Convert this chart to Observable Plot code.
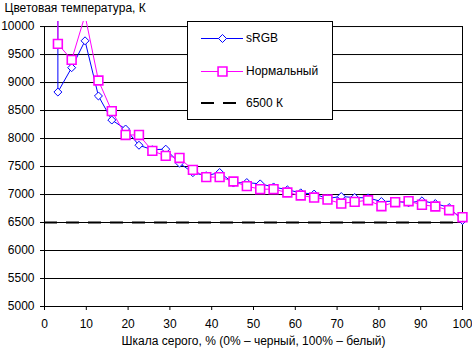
<!DOCTYPE html>
<html>
<head>
<meta charset="utf-8">
<script src="https://cdn.jsdelivr.net/npm/d3@7"></script>
<script src="https://cdn.jsdelivr.net/npm/@observablehq/plot@0.6"></script>
<style>
  html, body { margin: 0; padding: 0; background: white; }
  #chart { position: relative; width: 472px; height: 349px; font-family: "Liberation Sans", Arial, sans-serif; font-size: 12px; }
  #legend { position: absolute; left: 187px; top: 21px; width: 146px; height: 99px; box-sizing: border-box; border: 1px solid black; background: white; }
  #legend svg { position: absolute; left: 0; top: 0; }
  #legend span { position: absolute; left: 58px; line-height: 14px; white-space: nowrap; color: black; }
</style>
</head>
<body>
<div id="chart"></div>
<script>
// Grey level of each measured step, % of full scale
const greyLevels = [3.2, 6.5, 9.7, 12.9, 16.1, 19.4, 22.6, 25.8, 29.0, 32.3, 35.5,
  38.7, 41.9, 45.2, 48.4, 51.6, 54.8, 58.1, 61.3, 64.5, 67.7, 71.0, 74.2, 77.4,
  80.6, 83.9, 87.1, 90.3, 93.5, 96.8, 100];

// Colour temperature, K, in sRGB mode
const srgbTemps = [8830, 9265, 9745, 8760, 8330, 8170, 7880, 7800, 7810, 7560, 7390,
  7336, 7393, 7205, 7214, 7190, 7135, 7084, 7030, 7008, 6930, 6964, 6946, 6940,
  6875, 6881, 6851, 6887, 6839, 6767, 6536];

// Colour temperature, K, in the "Нормальный" mode
const normalTemps = [9690, 9405, 10200, 9036, 8490, 8064, 8064, 7779, 7690, 7653, 7440,
  7311, 7311, 7232, 7149, 7095, 7095, 7036, 6982, 6946, 6910, 6839, 6869, 6898,
  6791, 6863, 6881, 6816, 6786, 6720, 6595];

// The darkest reading is off the scale; its line runs up out of the plot
const offScaleLevel = 3.2;
const offScaleTemp = 11500;

const referenceTemp = 6500;
const yTicks = [5000, 5500, 6000, 6500, 7000, 7500, 8000, 8500, 9000, 9500, 10000];
const xTicks = [0, 10, 20, 30, 40, 50, 60, 70, 80, 90, 100];
const yMax = 10000;
const yTop = 10090;

const titleText = "Цветовая температура, К";
const xLabel = "Шкала серого, % (0% – черный, 100% – белый)";
const seriesNames = ["sRGB", "Нормальный", "6500 К"];

const blue = "#0000ff";
const magenta = "#ff00ff";

const srgbRows = greyLevels.map((x, i) => ({x, t: srgbTemps[i]}));
const normalRows = greyLevels.map((x, i) => ({x, t: normalTemps[i]}));
const srgbLine = [{x: offScaleLevel, t: offScaleTemp}, ...srgbRows];
const normalLine = [{x: offScaleLevel, t: offScaleTemp}, ...normalRows];
const inRange = d => d.t <= yTop;

const chart = Plot.plot({
  width: 472,
  height: 349,
  marginLeft: 44,
  marginRight: 10,
  marginTop: 21,
  marginBottom: 43,
  style: {fontFamily: "'Liberation Sans', Arial, sans-serif", fontSize: "12px", color: "black", background: "white"},
  x: {domain: [0, 100]},
  y: {domain: [5000, yTop]},
  marks: [
    Plot.ruleY(yTicks.filter(v => v > 5000), {stroke: "black", strokeWidth: 1}),
    Plot.ruleX([0, 100], {y1: 5000, y2: yMax, stroke: "black"}),
    Plot.ruleY([5000], {stroke: "black"}),
    Plot.ruleY([referenceTemp], {stroke: "black", strokeWidth: 2, strokeDasharray: "13,9"}),
    Plot.axisY({ticks: yTicks, tickSize: 4, tickPadding: 6, label: null, tickFormat: d => String(d)}),
    Plot.axisX({ticks: xTicks, tickSize: 4, tickPadding: 9, label: null}),
    Plot.line(srgbLine, {x: "x", y: "t", stroke: blue, strokeWidth: 1, clip: true}),
    Plot.dot(srgbRows.filter(inRange), {x: "x", y: "t", symbol: "diamond2", r: 3.6, stroke: blue, fill: "white", strokeWidth: 1}),
    Plot.line(normalLine, {x: "x", y: "t", stroke: magenta, strokeWidth: 1, clip: true}),
    Plot.dot(normalRows.filter(inRange), {x: "x", y: "t", symbol: "square2", r: 5.6, stroke: magenta, fill: "white", strokeWidth: 1.6}),
    Plot.text([titleText], {text: d => d, frameAnchor: "top-left", dx: -40, dy: -18, lineAnchor: "top", textAnchor: "start", fontSize: 12}),
    Plot.text([xLabel], {text: d => d, frameAnchor: "bottom", dy: 30, lineAnchor: "top", fontSize: 12})
  ]
});

const holder = document.getElementById("chart");
holder.appendChild(chart);

// Legend box drawn over the plot area
const legend = document.createElement("div");
legend.id = "legend";
const sym = d3.symbol();
const diamondPath = d3.symbol(d3.symbolDiamond2, 41)();
const squarePath = d3.symbol(d3.symbolSquare2, 100)();
legend.innerHTML = `
  <svg width="144" height="97">
    <line x1="13" x2="55" y1="16.5" y2="16.5" stroke="${blue}" stroke-width="1"/>
    <path d="${diamondPath}" transform="translate(34.5,16.5)" fill="white" stroke="${blue}"/>
    <line x1="13" x2="55" y1="49.5" y2="49.5" stroke="${magenta}" stroke-width="1"/>
    <path d="${squarePath}" transform="translate(34.5,49.5)" fill="white" stroke="${magenta}" stroke-width="1.6"/>
    <line x1="13" x2="48" y1="81" y2="81" stroke="black" stroke-width="2" stroke-dasharray="13,9"/>
  </svg>
  <span style="top:9px">${seriesNames[0]}</span>
  <span style="top:42px">${seriesNames[1]}</span>
  <span style="top:74px">${seriesNames[2]}</span>`;
holder.appendChild(legend);
</script>
</body>
</html>
